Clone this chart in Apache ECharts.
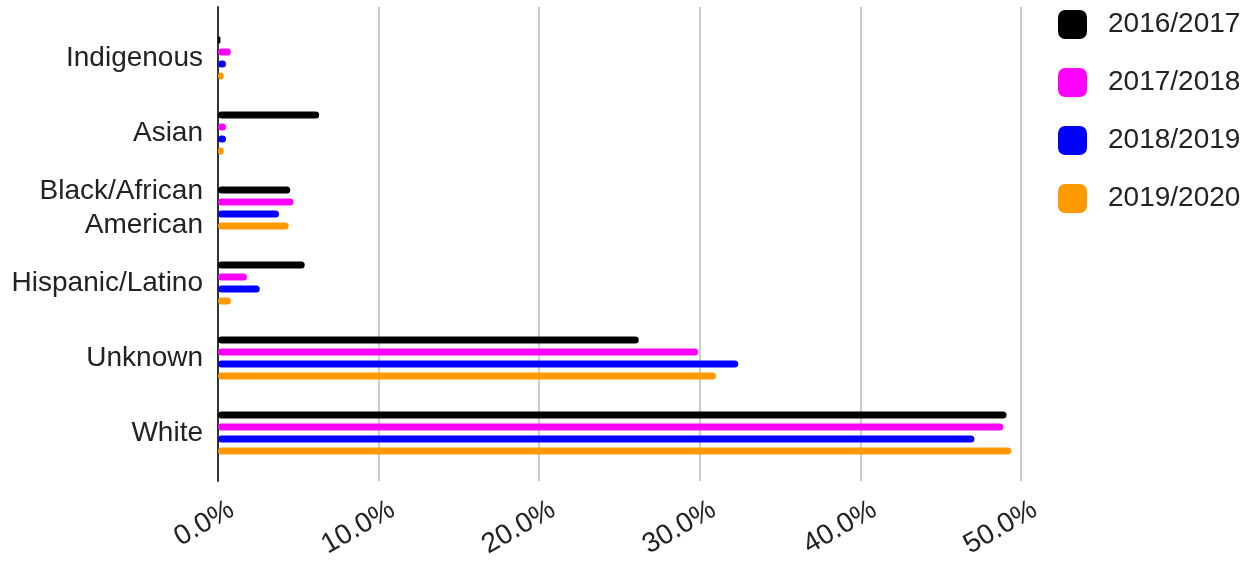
<!DOCTYPE html>
<html><head><meta charset="utf-8">
<script src="https://cdn.jsdelivr.net/npm/echarts@6/dist/echarts.min.js"></script>
<style>html,body{margin:0;padding:0;background:#fff}#c{width:1256px;height:561px}</style>
</head><body><div id="c"></div>
<script>
const categories = ['Indigenous', 'Asian', 'Black/African\nAmerican', 'Hispanic/Latino', 'Unknown', 'White'];
const seriesNames = ['2016/2017', '2017/2018', '2018/2019', '2019/2020'];
const v2016 = [0.15, 6.3, 4.5, 5.4, 26.2, 49.1];
const v2017 = [0.8, 0.5, 4.7, 1.8, 29.9, 48.9];
const v2018 = [0.5, 0.5, 3.8, 2.6, 32.4, 47.1];
const v2019 = [0.35, 0.35, 4.4, 0.8, 31.0, 49.4];
const colors = ['#000000', '#ff00ff', '#0000ff', '#ff9900'];
const allValues = [v2016, v2017, v2018, v2019];
const FONT = 'Liberation Sans, Arial, sans-serif';

const chart = echarts.init(document.getElementById('c'));
chart.setOption({
  animation: false,
  color: colors,
  textStyle: { fontFamily: FONT },
  legend: {
    orient: 'vertical', left: 1053, top: 5,
    itemWidth: 29, itemHeight: 29, itemGap: 29,
    icon: 'roundRect',
    textStyle: { fontSize: 28, color: '#222', fontFamily: FONT, padding: [0, 0, 0, 16] },
    data: seriesNames
  },
  grid: [
    { left: 218, right: 235, top: 7, bottom: 80 },
    { left: 218, right: 235, top: 20.5, bottom: 90.5 },
    { left: 232, right: 221, top: 7, bottom: 80 }
  ],
  xAxis: [
    {
      gridIndex: 0, type: 'value', min: 0, max: 50, interval: 10,
      axisLine: { show: false }, axisTick: { show: false },
      splitLine: { show: true, lineStyle: { color: '#cccccc', width: 2 } },
      axisLabel: { show: false }
    },
    {
      gridIndex: 1, type: 'value', min: 0, max: 50, show: false
    },
    {
      gridIndex: 2, type: 'value', min: 0, max: 50, interval: 10,
      axisLine: { show: false }, axisTick: { show: false }, splitLine: { show: false },
      axisLabel: { rotate: 30, fontSize: 28, color: '#222', margin: 33, fontFamily: FONT,
        formatter: v => v.toFixed(1) + '%' }
    }
  ],
  yAxis: [
    {
      gridIndex: 0, type: 'value', min: 0, max: 1,
      axisLine: { show: true, lineStyle: { color: '#333', width: 2 } },
      axisTick: { show: false }, axisLabel: { show: false }, splitLine: { show: false }
    },
    {
      gridIndex: 1, type: 'category', inverse: true, data: categories,
      axisLine: { show: false }, axisTick: { show: false },
      axisLabel: { fontSize: 28, color: '#222', margin: 15, lineHeight: 34, fontFamily: FONT }
    },
    {
      gridIndex: 2, type: 'value', min: 0, max: 1, show: false
    }
  ],
  series: seriesNames.map((n, i) => ({
    name: n, type: 'bar', xAxisIndex: 1, yAxisIndex: 1,
    data: allValues[i], barWidth: 7, barGap: '71%',
    itemStyle: { color: colors[i], borderRadius: 3.5 }
  }))
});
</script></body></html>
